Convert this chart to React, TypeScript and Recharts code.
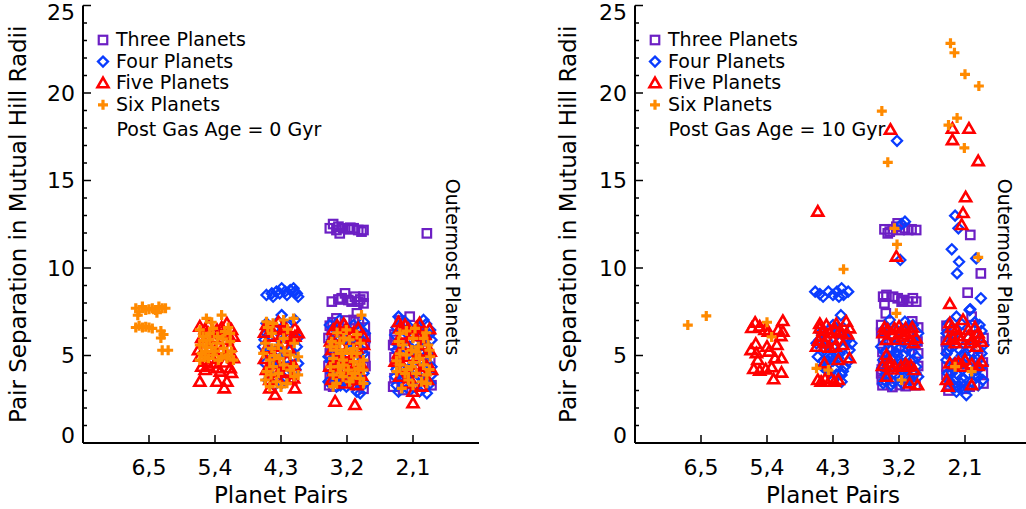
import { ScatterChart, Scatter, XAxis, YAxis, Label } from "recharts";

const FONT = "'DejaVu Sans', sans-serif";
const PURPLE = "#6c1fc4";
const BLUE = "#0a3cff";
const RED = "#ff0000";
const ORANGE = "#ff8a00";

// x positions 1..5 are the pair categories, points are jittered around them
const pairTicks = [1, 2, 3, 4, 5];
const pairLabels = ["6,5", "5,4", "4,3", "3,2", "2,1"];
const sepTicks = [0, 1, 2, 3, 4, 5, 6, 7, 8, 9, 10, 11, 12, 13, 14, 15, 16, 17, 18, 19, 20, 21, 22, 23, 24, 25];
const seriesNames = ["Three Planets", "Four Planets", "Five Planets", "Six Planets"];

// ---- post gas age = 0 Gyr ----
const three0 = [
  [3.74, 12.27], [3.79, 12.51], [3.84, 12.17], [3.89, 11.98], [3.94, 12.27], [4.02, 12.21], [4.1, 12.27], [4.17, 12.17],
  [4.22, 12.08], [4.25, 12.17], [3.87, 12.36], [4.05, 12.3],
  [3.77, 8.08], [3.92, 8.27], [3.97, 8.55], [4.02, 8.17], [4.07, 8.08], [4.12, 8.36], [4.17, 8.08], [4.25, 8.36],
  [4.25, 7.98], [4.15, 7.41], [3.84, 7.12], [3.87, 8.2], [4.2, 8.2],
  [3.77, 6.27], [3.74, 5.12], [4.27, 5.7], [4.27, 4.93], [3.74, 3.79], [3.79, 3.22], [4.25, 4.36], [4.1, 7.03],
  [4.2, 3.41], [3.74, 6.7], [4.27, 6.6], [3.72, 4.4], [4.0, 7.0], [3.72, 6.0], [4.28, 6.0], [3.75, 5.5],
  [4.28, 4.4], [3.73, 3.3], [4.25, 3.1], [3.78, 6.9], [4.18, 6.95],
  [5.21, 11.98], [4.95, 7.22], [4.73, 5.89], [4.75, 4.36], [4.7, 3.22], [5.26, 4.74], [5.18, 3.6], [5.06, 6.46],
  [4.85, 3.03], [4.72, 4.9], [4.72, 6.2], [4.7, 5.6], [4.72, 3.7], [5.28, 3.3], [4.8, 7.0],
];
const four0 = [
  [2.78, 8.46], [2.86, 8.55], [2.93, 8.65], [3.01, 8.84], [3.06, 8.65], [3.14, 8.74], [3.19, 8.84], [3.24, 8.55],
  [3.26, 8.36], [3.09, 8.46], [2.98, 8.55], [2.88, 8.36], [3.21, 8.65],
  [3.01, 7.31], [2.78, 6.27], [2.73, 5.5], [2.83, 5.12], [3.19, 4.93], [3.26, 4.55], [2.76, 4.55], [2.93, 4.17],
  [3.09, 3.98], [3.16, 3.69], [3.01, 3.41], [2.88, 5.7], [3.14, 6.08], [3.06, 5.12], [3.24, 5.5], [2.81, 3.98],
  [2.98, 6.27], [2.91, 4.74], [3.21, 7.03], [2.78, 6.84], [3.11, 4.36], [3.04, 5.6], [2.95, 6.9], [3.2, 4.0],
  [2.8, 6.5], [3.1, 6.7], [3.25, 6.0], [2.75, 5.9], [2.95, 5.3], [3.15, 5.3], [2.85, 4.4], [3.0, 4.6],
  [3.22, 4.2], [2.8, 3.6], [3.05, 3.7], [2.9, 3.3],
  [3.74, 6.74], [3.89, 7.03], [4.1, 6.74], [4.25, 6.93], [3.77, 5.89], [3.92, 5.5], [4.17, 6.08], [4.27, 6.27],
  [3.72, 4.93], [3.84, 4.55], [4.02, 4.93], [4.25, 5.12], [3.77, 3.98], [3.94, 3.6], [4.1, 3.79], [4.25, 3.98],
  [3.84, 3.22], [4.15, 2.93], [4.2, 2.84], [4.02, 4.36], [3.89, 6.27], [4.12, 5.5], [3.72, 3.5], [3.99, 3.22],
  [4.27, 3.41], [3.97, 6.0], [4.05, 5.7], [3.8, 5.3], [3.8, 6.6], [3.95, 6.4], [4.2, 6.4], [3.85, 5.9],
  [4.0, 5.8], [4.15, 5.6], [4.22, 5.3], [3.75, 4.7], [3.9, 4.9], [4.1, 4.8], [3.82, 4.2], [3.95, 4.0],
  [4.15, 4.1], [3.85, 3.8], [4.05, 3.9], [4.2, 3.7], [3.9, 3.3], [4.1, 3.3],
  [4.78, 7.22], [4.88, 6.93], [5.16, 7.03], [5.26, 6.46], [4.73, 6.17], [5.28, 5.89], [4.75, 5.31], [4.8, 4.74],
  [5.23, 5.12], [5.28, 4.36], [4.73, 3.79], [4.85, 3.41], [5.0, 3.22], [5.16, 3.12], [5.26, 3.41], [4.78, 2.93],
  [5.21, 2.84], [4.95, 3.98], [5.1, 4.36], [4.88, 4.55], [5.05, 5.31], [4.93, 5.89], [5.18, 5.5], [5.03, 3.6],
  [5.28, 3.89], [4.8, 3.98], [5.1, 6.6], [4.9, 6.3], [4.75, 6.6], [4.95, 6.6], [5.2, 6.8], [4.85, 6.1],
  [5.1, 6.0], [5.25, 6.2], [4.78, 5.6], [4.95, 5.5], [5.15, 5.8], [4.85, 5.0], [5.0, 4.8], [5.2, 4.9],
  [4.75, 4.2], [4.95, 4.3], [5.15, 4.0], [4.85, 3.7], [5.1, 3.8], [4.95, 3.0], [5.1, 2.95], [4.75, 3.3],
];
const five0 = [
  [1.77, 6.65], [1.9, 6.74], [2.03, 6.46], [2.18, 6.84], [2.25, 6.46], [1.82, 5.7], [1.97, 5.98], [2.1, 5.31],
  [2.23, 5.5], [1.77, 4.93], [1.87, 4.65], [2.28, 4.84], [1.8, 4.36], [1.85, 4.17], [2.03, 4.27], [2.08, 4.08],
  [2.23, 4.27], [1.77, 3.5], [2.03, 3.5], [2.18, 3.5], [2.14, 3.12], [2.0, 4.55], [1.92, 5.31], [2.18, 5.89],
  [2.28, 6.08], [1.75, 5.31], [1.9, 6.27], [2.13, 6.27], [1.85, 6.5], [2.1, 6.6], [2.2, 6.2], [1.8, 6.0],
  [2.05, 5.6], [1.95, 4.8], [2.15, 4.6], [1.9, 4.4], [2.25, 4.0],
  [2.78, 6.74], [2.93, 6.55], [3.09, 6.46], [3.21, 6.55], [3.26, 6.27], [2.83, 6.08], [3.01, 6.17], [3.16, 5.98],
  [2.78, 5.41], [2.98, 5.5], [2.88, 5.03], [3.09, 4.74], [2.78, 4.17], [2.93, 3.79], [3.09, 4.08], [3.19, 3.69],
  [2.83, 3.6], [2.83, 3.12], [2.91, 2.74], [3.21, 3.12], [3.14, 3.6], [3.21, 6.08], [2.96, 6.9], [2.85, 6.5],
  [3.05, 6.6], [2.75, 6.3], [3.12, 5.4], [2.92, 4.5], [3.2, 4.4], [2.98, 4.0], [2.75, 4.8],
  [3.79, 6.46], [3.99, 6.55], [4.17, 6.55], [3.87, 6.08], [4.07, 6.17], [4.25, 6.08], [3.77, 5.31], [3.97, 5.12],
  [4.15, 5.41], [3.82, 4.65], [4.04, 4.55], [4.22, 4.46], [3.74, 4.36], [3.89, 3.98], [4.1, 3.6], [3.77, 3.6],
  [3.82, 2.36], [4.12, 2.17], [4.15, 3.31], [3.95, 6.8], [3.85, 6.7], [4.1, 6.3], [3.75, 5.8], [3.92, 5.55],
  [4.1, 5.9], [4.25, 5.6], [3.9, 4.8], [4.15, 4.9], [3.8, 4.1], [4.0, 3.8], [4.22, 3.85], [3.95, 3.4], [4.05, 4.3],
  [4.8, 6.55], [4.88, 6.74], [5.1, 6.84], [4.78, 5.89], [5.0, 6.27], [5.18, 6.17], [4.78, 5.12], [4.95, 4.93],
  [5.13, 5.22], [5.26, 5.22], [4.73, 4.65], [5.03, 4.46], [5.21, 4.36], [5.28, 4.17], [4.8, 3.79], [5.13, 3.22],
  [5.0, 2.93], [5.0, 2.27], [4.9, 3.41], [4.93, 6.5], [4.78, 6.9], [5.05, 6.6], [5.25, 6.5], [4.85, 6.2],
  [5.08, 6.1], [4.9, 5.6], [5.15, 5.6], [4.78, 4.8], [5.08, 5.0], [4.85, 4.3], [5.12, 4.1], [4.95, 3.7], [5.22, 3.6],
];
const six0 = [
  [0.8, 7.7], [0.85, 7.5], [0.9, 7.8], [0.95, 7.6], [1.05, 7.7], [1.1, 7.6], [1.15, 7.8], [1.2, 7.7], [1.25, 7.7],
  [1.0, 7.65], [1.12, 7.45], [0.83, 7.3], [0.8, 6.6], [0.85, 6.7], [0.9, 6.6], [0.95, 6.65], [1.0, 6.6], [1.05, 6.55],
  [1.18, 6.4], [1.22, 6.2], [1.18, 6.0], [1.2, 5.3], [1.29, 5.3],
  [1.87, 7.12], [2.1, 7.31], [1.77, 6.46], [1.97, 6.55], [1.82, 6.08], [1.92, 5.89], [2.04, 6.08], [2.23, 5.79],
  [1.77, 5.6], [1.87, 5.5], [2.03, 5.7], [2.13, 5.41], [2.25, 5.22], [1.8, 5.12], [1.97, 5.03], [2.1, 4.93],
  [2.2, 5.03], [1.77, 4.74], [1.9, 4.84], [2.05, 4.74], [2.28, 4.74], [1.92, 6.27], [2.15, 6.36], [1.85, 5.22],
  [2.23, 6.27], [1.95, 6.9], [2.2, 6.6], [1.82, 5.85], [2.12, 5.95], [1.95, 5.45], [2.0, 5.25], [2.18, 4.85],
  [1.85, 4.9],
  [2.78, 6.93], [2.88, 6.84], [3.04, 7.03], [3.19, 7.12], [2.76, 5.7], [2.86, 5.41], [2.96, 5.6], [2.73, 5.12],
  [2.83, 4.74], [2.98, 4.84], [3.14, 5.03], [3.26, 4.93], [2.88, 4.36], [3.04, 4.46], [3.19, 4.36], [2.78, 4.08],
  [2.96, 3.98], [3.14, 4.17], [2.76, 3.6], [2.93, 3.5], [3.09, 3.41], [3.26, 3.89], [2.83, 3.22], [3.04, 5.98],
  [2.86, 6.27], [2.8, 6.6], [3.1, 6.5], [3.2, 5.7], [2.9, 5.0], [3.05, 5.25], [3.2, 3.8], [2.85, 3.9], [3.0, 3.2],
  [4.22, 7.31], [3.77, 5.79], [3.89, 5.7], [4.04, 5.89], [4.2, 5.7], [3.84, 5.31], [3.99, 5.31], [4.15, 5.12],
  [3.79, 4.84], [3.94, 4.74], [4.1, 4.65], [4.25, 4.74], [3.87, 4.36], [4.02, 4.17], [4.17, 4.27], [3.79, 3.89],
  [3.94, 3.79], [4.12, 3.98], [4.25, 4.17], [3.84, 3.41], [4.04, 3.5], [4.2, 3.69], [3.92, 5.12], [4.07, 5.12],
  [3.79, 3.22], [3.99, 6.46], [3.85, 6.3], [4.15, 6.2], [3.75, 5.5], [4.1, 5.4], [3.95, 4.45], [4.2, 4.5],
  [3.75, 4.35], [3.9, 4.0], [4.08, 3.7], [4.25, 3.4], [3.95, 6.0],
  [4.8, 6.27], [5.0, 5.98], [5.16, 5.98], [4.85, 5.6], [5.08, 5.5], [5.23, 5.6], [4.9, 5.03], [5.1, 4.84],
  [5.26, 4.93], [4.8, 4.46], [4.98, 4.36], [5.16, 4.46], [4.88, 3.98], [5.05, 3.98], [5.21, 3.89], [4.93, 3.6],
  [5.13, 3.5], [4.83, 3.12], [5.21, 3.41], [4.98, 5.31], [5.03, 6.55], [4.75, 4.08], [4.9, 6.4], [5.2, 6.3],
  [4.78, 5.8], [5.05, 5.2], [4.8, 5.1], [5.25, 5.3], [5.0, 4.6], [4.75, 4.7], [5.25, 4.2], [5.0, 3.3], [4.9, 4.2],
];

// ---- post gas age = 10 Gyr ----
const three10 = [
  [3.78, 12.21], [3.86, 12.08], [3.91, 12.21], [3.96, 12.36], [4.01, 12.17], [4.09, 12.27], [4.14, 12.17],
  [4.19, 12.21], [4.26, 12.17], [3.83, 11.98], [3.98, 12.55],
  [3.76, 8.36], [3.81, 8.46], [3.91, 8.36], [3.98, 8.27], [4.06, 8.17], [4.14, 8.08], [4.21, 8.27], [4.26, 8.08],
  [3.78, 7.98], [4.04, 8.08], [3.8, 7.41],
  [3.73, 6.74], [3.76, 5.89], [3.73, 3.98], [3.76, 4.55], [4.29, 5.12], [4.21, 3.98], [4.01, 3.31], [3.81, 4.93],
  [3.96, 5.5], [4.29, 6.6], [3.74, 3.6], [4.1, 5.0], [3.73, 6.3], [3.75, 5.2], [3.74, 4.2], [3.75, 3.3],
  [4.28, 5.8], [4.29, 4.4], [4.25, 3.3], [3.9, 3.2], [4.1, 3.25], [4.2, 6.95],
  [5.08, 11.89], [5.24, 9.69], [5.04, 8.59], [5.1, 7.22], [4.74, 6.08], [4.72, 4.36], [4.77, 3.31], [4.87, 3.22],
  [5.07, 3.22], [5.27, 3.98], [4.72, 5.31], [5.2, 4.9], [4.72, 6.7], [4.71, 5.8], [4.72, 3.9], [4.75, 3.0],
  [5.28, 3.4], [5.28, 6.0], [5.0, 3.1], [5.27, 4.6],
];
const four10 = [
  [3.97, 17.27], [4.09, 12.65], [4.04, 12.51], [4.02, 10.46],
  [2.73, 8.65], [2.8, 8.51], [2.85, 8.36], [2.93, 8.65], [3.0, 8.46], [3.06, 8.65], [3.13, 8.84], [3.16, 8.46],
  [3.23, 8.65], [3.09, 8.36], [3.12, 7.3],
  [3.0, 6.74], [3.08, 6.27], [3.2, 6.08], [2.75, 5.7], [2.87, 5.31], [3.0, 5.5], [3.15, 5.41], [3.25, 5.31],
  [2.77, 4.93], [2.92, 4.74], [3.08, 4.84], [3.23, 4.65], [2.84, 4.36], [3.02, 4.27], [3.18, 4.36], [2.95, 3.98],
  [3.13, 3.89], [3.13, 3.5], [3.28, 5.7], [2.9, 5.89], [3.05, 5.05], [2.82, 6.3], [2.95, 6.5], [3.15, 6.6],
  [2.8, 5.9], [3.1, 5.8], [3.22, 5.9], [2.9, 5.6], [3.1, 5.1], [2.85, 4.7], [3.0, 4.7], [3.15, 4.1], [2.9, 4.2],
  [3.05, 3.9], [2.98, 4.95],
  [3.76, 3.41], [3.88, 3.31], [3.78, 6.27], [3.91, 6.08], [4.06, 6.46], [4.21, 6.74], [4.29, 6.27], [3.73, 5.5],
  [3.88, 5.31], [4.01, 5.41], [4.16, 5.5], [4.26, 5.7], [3.76, 4.74], [3.91, 4.93], [4.06, 5.03], [4.21, 4.74],
  [3.81, 4.17], [3.96, 4.36], [4.11, 4.17], [4.26, 4.36], [3.83, 3.69], [4.01, 3.79], [4.16, 3.6], [4.29, 3.79],
  [3.86, 7.03], [4.09, 6.93], [4.21, 5.89], [3.78, 3.6], [3.98, 5.0], [4.05, 4.5], [3.8, 6.6], [3.95, 6.5],
  [4.15, 6.7], [3.85, 5.8], [4.0, 5.9], [4.12, 5.7], [3.78, 5.2], [3.95, 5.2], [4.2, 5.2], [3.85, 4.6],
  [4.0, 4.7], [4.15, 4.5], [3.8, 3.9], [3.95, 3.9], [4.1, 3.8], [4.25, 4.0], [3.9, 3.5], [4.05, 3.4], [4.2, 3.4],
  [3.75, 4.3], [4.27, 4.9],
  [4.85, 12.99], [4.9, 12.27], [4.8, 11.07], [5.17, 10.55], [4.91, 10.36], [4.88, 9.69], [5.24, 8.27], [5.08, 7.64],
  [4.87, 2.93], [5.02, 2.74], [4.72, 6.27], [4.87, 7.22], [5.07, 7.6], [5.22, 6.74], [5.2, 5.89], [4.77, 5.5],
  [4.92, 5.31], [5.07, 5.5], [5.25, 5.12], [4.72, 4.74], [4.82, 4.36], [4.97, 4.55], [5.12, 4.74], [5.27, 4.46],
  [4.74, 3.98], [4.89, 3.89], [5.05, 3.98], [5.2, 3.79], [5.27, 3.6], [4.79, 3.41], [4.94, 3.41], [5.1, 3.5],
  [4.82, 6.08], [4.97, 6.27], [5.15, 6.17], [4.72, 5.12], [5.02, 4.93], [5.17, 4.17], [4.92, 3.12],
  [4.75, 6.8], [4.95, 6.8], [5.15, 6.9], [4.8, 6.4], [5.05, 6.0], [5.25, 6.4], [4.8, 5.8], [5.0, 5.6], [5.2, 5.4],
  [4.75, 5.3], [4.95, 5.0], [5.12, 5.1], [4.85, 4.6], [5.05, 4.4], [5.22, 4.3], [4.8, 4.0], [4.95, 3.7],
  [5.15, 3.9], [4.85, 3.2], [5.05, 3.15], [5.2, 3.3], [4.75, 3.6], [5.28, 5.6],
];
const five10 = [
  [1.77, 6.57], [1.82, 6.87], [1.89, 6.65], [1.97, 6.46], [2.02, 6.36], [2.17, 6.46], [2.24, 6.97], [2.24, 6.36],
  [2.21, 6.11], [1.83, 5.66], [1.76, 5.31], [1.84, 5.13], [2.0, 5.5], [2.15, 5.6], [2.03, 5.22], [1.86, 4.74],
  [2.12, 4.84], [2.22, 4.84], [1.8, 4.23], [1.89, 4.13], [1.98, 4.21], [2.07, 4.33], [2.22, 4.02], [2.1, 3.64],
  [2.77, 13.22], [2.8, 6.55], [2.9, 6.74], [3.03, 6.46], [3.2, 6.93], [3.25, 6.55], [2.82, 6.08], [2.95, 6.27],
  [3.13, 6.27], [2.75, 5.5], [2.87, 5.7], [3.03, 5.5], [3.15, 5.6], [3.25, 4.84], [2.87, 4.55], [3.08, 4.74],
  [2.77, 3.6], [2.82, 3.5], [2.97, 3.69], [3.08, 3.6], [2.8, 6.8], [3.05, 6.8], [2.85, 6.4], [3.1, 6.35],
  [3.22, 6.2], [2.78, 5.85], [3.0, 5.9], [2.95, 5.45], [2.88, 3.65], [3.02, 3.5],
  [3.87, 17.9], [3.96, 10.65], [3.76, 6.27], [3.83, 6.46], [3.93, 6.55], [4.03, 6.36], [4.1, 6.55], [4.18, 6.36],
  [4.26, 5.98], [3.81, 5.89], [4.06, 6.08], [4.16, 5.89], [3.81, 5.03], [3.86, 4.36], [3.93, 4.36], [4.03, 4.36],
  [4.13, 4.36], [4.23, 4.17], [4.16, 3.41], [3.81, 3.79], [4.28, 3.3], [3.78, 6.6], [4.0, 6.65], [4.2, 6.6],
  [3.9, 6.2], [4.1, 6.2], [3.95, 5.9], [4.22, 5.7], [3.85, 4.6], [4.1, 4.5], [3.9, 4.2], [4.18, 4.4], [3.75, 4.4],
  [4.81, 17.96], [5.06, 17.96], [4.81, 17.31], [5.2, 16.11], [5.01, 14.04], [4.97, 13.14], [4.95, 12.46],
  [4.77, 7.94], [4.77, 6.84], [4.97, 7.03], [4.87, 6.46], [5.05, 6.46], [5.2, 6.27], [4.74, 5.89], [4.82, 5.98],
  [4.94, 5.89], [5.12, 5.89], [5.25, 5.79], [5.17, 5.5], [4.77, 4.55], [5.0, 4.74], [4.97, 4.36], [5.25, 4.65],
  [4.72, 3.6], [5.1, 3.31], [4.74, 3.22], [4.8, 6.6], [5.15, 6.6], [4.9, 6.1], [5.05, 6.1], [5.22, 6.0],
  [4.85, 5.7], [5.08, 5.7], [4.9, 4.6], [5.1, 4.5], [4.85, 4.5], [5.2, 4.4],
];
const six10 = [
  [0.8, 6.74], [1.08, 7.26],
  [2.0, 6.9], [2.07, 6.06],
  [3.16, 9.93], [2.75, 4.27], [2.93, 4.17],
  [3.74, 18.97], [3.83, 16.04], [3.93, 12.27], [3.97, 11.35], [3.96, 7.41], [4.04, 3.6],
  [4.78, 22.84], [4.84, 22.3], [5.0, 21.07], [5.21, 20.4], [4.88, 18.57], [4.75, 18.17], [4.99, 16.86],
  [5.2, 10.61], [4.85, 4.36], [5.1, 4.08],
];

const toPts = (arr: number[][]) => arr.map(([x, y]) => ({ x, y }));

const Square = (p: any) => (
  <rect x={p.cx - 4.25} y={p.cy - 4.25} width={8.5} height={8.5} fill="none" stroke={PURPLE} strokeWidth={2.2} />
);
const Diamond = (p: any) => (
  <polygon
    points={`${p.cx},${p.cy - 5} ${p.cx + 5},${p.cy} ${p.cx},${p.cy + 5} ${p.cx - 5},${p.cy}`}
    fill="none"
    stroke={BLUE}
    strokeWidth={2.3}
  />
);
const Triangle = (p: any) => (
  <polygon
    points={`${p.cx},${p.cy - 5.5} ${p.cx + 5.5},${p.cy + 4} ${p.cx - 5.5},${p.cy + 4}`}
    fill="none"
    stroke={RED}
    strokeWidth={2.6}
  />
);
const Plus = (p: any) => (
  <path
    d={`M${p.cx - 5},${p.cy}H${p.cx + 5}M${p.cx},${p.cy - 5}V${p.cy + 5}`}
    stroke={ORANGE}
    strokeWidth={3.2}
  />
);
const shapes = [Square, Diamond, Triangle, Plus];

const PLOT_TOP = 5.5;
const PLOT_BOTTOM = 443;

function YTick(props: any) {
  const { x, y, payload, side } = props;
  const v = payload.value;
  const major = v % 5 === 0;
  const dir = side === "left" ? 1 : -1;
  const len = major ? 8 : 4;
  // labels at the ends are kept inside the frame
  const ly = Math.min(Math.max(y, PLOT_TOP + 7), PLOT_BOTTOM - 8);
  return (
    <g>
      <line x1={x} x2={x + dir * len} y1={y} y2={y} stroke="#000" strokeWidth={1.5} />
      {side === "left" && major && (
        <text x={x - 8} y={ly} dy="0.36em" textAnchor="end" fontSize={22} fontFamily={FONT} fill="#000">
          {v}
        </text>
      )}
    </g>
  );
}

function XTick(props: any) {
  const { x, y, payload, side } = props;
  const dir = side === "bottom" ? -1 : 1;
  return (
    <g>
      <line x1={x} x2={x} y1={y} y2={y + dir * 8} stroke="#000" strokeWidth={1.5} />
      {side === "bottom" && (
        <text x={x} y={y + 32} textAnchor="middle" fontSize={22} fontFamily={FONT} fill="#000">
          {pairLabels[payload.value - 1]}
        </text>
      )}
    </g>
  );
}

const axisLine = { stroke: "#000", strokeWidth: 2 };

function Panel({ left, width, margin, data, age, labelOffset }: any) {
  const legendX = margin.left + 60;
  return (
    <div style={{ position: "absolute", left, top: 0, width, height: 509 }}>
      <ScatterChart width={width} height={509} margin={margin}>
        <XAxis
          xAxisId="b"
          type="number"
          dataKey="x"
          domain={[0, 6]}
          ticks={pairTicks}
          interval={0}
          allowDataOverflow
          height={60}
          tickSize={0}
          tickMargin={0}
          tickLine={false}
          axisLine={axisLine}
          tick={(p: any) => <XTick {...p} side="bottom" />}
        >
          <Label
            value="Planet Pairs"
            position="insideBottom"
            offset={0}
            style={{ fontSize: 23, fontFamily: FONT, fill: "#000" }}
          />
        </XAxis>
        <XAxis
          xAxisId="t"
          orientation="top"
          type="number"
          domain={[0, 6]}
          ticks={pairTicks}
          interval={0}
          allowDataOverflow
          height={0}
          tickSize={0}
          tickMargin={0}
          tickLine={false}
          axisLine={axisLine}
          tick={(p: any) => <XTick {...p} side="top" />}
        />
        <YAxis
          yAxisId="l"
          type="number"
          dataKey="y"
          domain={[0, 25]}
          ticks={sepTicks}
          interval={0}
          allowDataOverflow
          width={60}
          tickSize={0}
          tickMargin={0}
          tickLine={false}
          axisLine={axisLine}
          tick={(p: any) => <YTick {...p} side="left" />}
        >
          <Label
            value="Pair Separation in Mutual Hill Radii"
            angle={-90}
            position="insideLeft"
            offset={labelOffset}
            style={{ fontSize: 23, fontFamily: FONT, fill: "#000", textAnchor: "middle" }}
          />
        </YAxis>
        <YAxis
          yAxisId="r"
          orientation="right"
          type="number"
          domain={[0, 25]}
          ticks={sepTicks}
          interval={0}
          allowDataOverflow
          width={0}
          tickSize={0}
          tickMargin={0}
          tickLine={false}
          axisLine={axisLine}
          tick={(p: any) => <YTick {...p} side="right" />}
        />
        {data.map((arr: number[][], i: number) => (
          <Scatter
            key={seriesNames[i]}
            name={seriesNames[i]}
            xAxisId="b"
            yAxisId="l"
            data={toPts(arr)}
            shape={shapes[i]}
            isAnimationActive={false}
          />
        ))}
      </ScatterChart>
      <svg
        width={width}
        height={509}
        style={{ position: "absolute", left: 0, top: 0, pointerEvents: "none" }}
        fontFamily={FONT}
      >
        {seriesNames.map((name, i) => {
          const Shape = shapes[i];
          const base = 46 + i * 21.6;
          return (
            <g key={name}>
              <Shape cx={legendX + 20} cy={base - 6} />
              <text x={legendX + 33} y={base} fontSize={19} fill="#000">
                {name}
              </text>
            </g>
          );
        })}
        <text x={legendX + 33.5} y={46 + 4 * 21.6 + 4} fontSize={19} fill="#000">
          {`Post Gas Age = ${age} Gyr`}
        </text>
        <text
          x={legendX + 370}
          y={267}
          fontSize={19}
          fill="#000"
          textAnchor="middle"
          dy="0.36em"
          transform={`rotate(90, ${legendX + 370}, 267)`}
        >
          Outermost Planets
        </text>
      </svg>
    </div>
  );
}

export default function App() {
  return (
    <div
      style={{
        position: "absolute",
        left: 0,
        top: 0,
        width: 1026,
        height: 509,
        overflow: "hidden",
        background: "#fff",
      }}
    >
      <Panel
        left={0}
        width={513}
        margin={{ top: PLOT_TOP, right: 34, bottom: 6, left: 23 }}
        data={[three0, four0, five0, six0]}
        age={0}
        labelOffset={-5}
      />
      <Panel
        left={513}
        width={530}
        margin={{ top: PLOT_TOP, right: 12, bottom: 6, left: 62 }}
        data={[three10, four10, five10, six10]}
        age={10}
        labelOffset={-7}
      />
    </div>
  );
}
